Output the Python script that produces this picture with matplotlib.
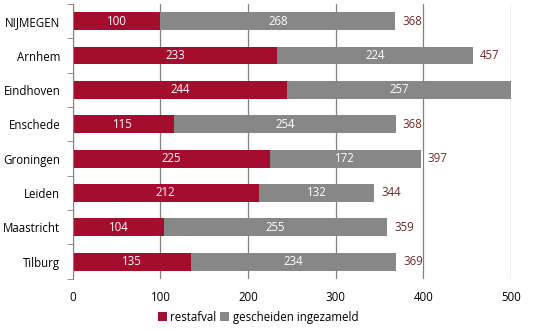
import numpy as np
import matplotlib.pyplot as plt

# waste per inhabitant (kg) per city
cities = ["NIJMEGEN", "Arnhem", "Eindhoven", "Enschede", "Groningen",
          "Leiden", "Maastricht", "Tilburg"]
restafval = [100, 233, 244, 115, 225, 212, 104, 135]
gescheiden = [268, 224, 257, 254, 172, 132, 255, 234]
totals = [368, 457, 501, 368, 397, 344, 359, 369]

red = "#A50D2F"
grey = "#878787"
fs = 8.3

plt.rcParams['font.family'] = ['Open Sans', 'DejaVu Sans']

fig = plt.figure(figsize=(5.4, 3.3), dpi=100)
ax = fig.add_axes([0.135, 0.155, 0.811, 0.833])

y = np.arange(len(cities))
h = 0.52
b1 = ax.barh(y, restafval, height=h, color=red, label="restafval", zorder=2)
b2 = ax.barh(y, gescheiden, left=restafval, height=h, color=grey,
             label="gescheiden ingezameld", zorder=2)

for i in range(len(cities)):
    ax.text(restafval[i] / 2, y[i], str(restafval[i]), color="white",
            ha="center", va="center", fontsize=fs, zorder=3)
    ax.text(restafval[i] + gescheiden[i] / 2, y[i], str(gescheiden[i]),
            color="white", ha="center", va="center", fontsize=fs, zorder=3)
    ax.text(totals[i] + 8, y[i], str(totals[i]), color="#6E2A2A",
            ha="left", va="center", fontsize=fs, zorder=3, clip_on=True)

ax.set_xlim(0, 500)
ax.set_ylim(len(cities) - 0.5, -0.5)
ax.set_xticks([0, 100, 200, 300, 400, 500])
ax.set_yticks(y)
ax.set_yticklabels(cities)
ax.set_yticks(np.arange(-0.5, len(cities)), minor=True)
ax.tick_params(axis="y", which="major", length=0, pad=9, labelsize=fs)
ax.tick_params(axis="y", which="minor", length=4, color="#808080", direction="out")
ax.tick_params(axis="x", length=0, pad=9, labelsize=fs)

ax.grid(axis="x", color="#808080", linewidth=0.9, zorder=0)
for s in ["top", "right", "bottom"]:
    ax.spines[s].set_visible(False)
ax.spines["left"].set_color("#808080")

fig.legend(handles=[b1, b2], loc="lower center", bbox_to_anchor=(0.478, -0.012),
           ncol=2, frameon=False, fontsize=fs, handlelength=0.8,
           handleheight=0.8, handletextpad=0.3, columnspacing=0.3)

fig.savefig("out.png", dpi=100)
